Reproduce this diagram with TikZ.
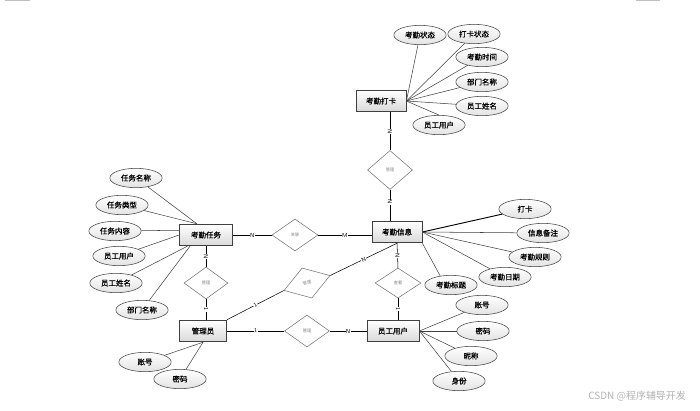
\documentclass[tikz,border=0pt]{standalone}
\usepackage{fontspec}
\usepackage{tikz}
\usetikzlibrary{shapes.geometric}
\newfontfamily\cjk[FakeBold=0.7]{Noto Sans CJK SC}
\newfontfamily\cjklight{Noto Sans CJK SC}
\tikzset{entity/.style = {draw=black!75, line width=0.7, top color=white, bottom color=gray!30,
                          minimum width=1.5cm, minimum height=0.65cm, inner sep=0,
                          font=\cjk\fontsize{6.4}{7}\selectfont}}
\tikzset{attr/.style = {ellipse, draw=black!75, top color=white, bottom color=gray!22,
                        minimum width=1.57cm, minimum height=0.58cm, inner sep=0,
                        font=\cjk\fontsize{6.4}{7}\selectfont}}
\tikzset{rel/.style = {diamond, draw=black!55, fill=white, minimum width=1.35cm, minimum height=0.96cm,
                       inner sep=0, text=gray, font=\cjklight\fontsize{3.6}{4}\selectfont}}
\tikzset{mult/.style = {fill=white, inner sep=0.4pt, sloped, font=\sffamily\fontsize{5}{5}\selectfont}}

\begin{document}
\begin{tikzpicture}[x=0.03cm, y=-0.03cm, line width=0.45]
      \useasboundingbox (0, 0) rectangle (700, 410);

      % entities
      \node [entity] (dk) at (381, 101) {考勤打卡};
      \node [entity, minimum width=1.59cm] (rw) at (206, 235) {考勤任务};
      \node [entity] (ki) at (397, 232) {考勤信息};
      \node [entity, minimum width=1.41cm] (gly) at (203, 331) {管理员};
      \node [entity, minimum width=1.56cm] (yg) at (393, 331) {员工用户};

      % relations
      \node [rel, minimum height=1.17cm] (tm) at (390, 170) {管理};
      \node [rel, minimum width=1.38cm] (gl) at (295, 235) {关联};
      \node [rel, minimum width=1.32cm] (lm) at (206, 283) {管理};
      \node [rel, rotate=18, minimum width=1.45cm, minimum height=0.95cm] (td) at (307, 283) {管理};
      \node [rel, minimum width=1.38cm, minimum height=0.9cm] (rd) at (398, 283) {查看};
      \node [rel] (bm) at (307, 331) {管理};

      % attributes
      \node [attr] (dk1) at (420, 35) {考勤状态};
      \node [attr] (dk2) at (474, 34) {打卡状态};
      \node [attr] (dk3) at (482, 57) {考勤时间};
      \node [attr] (dk4) at (482, 82) {部门名称};
      \node [attr] (dk5) at (482, 106) {员工姓名};
      \node [attr] (dk6) at (439, 125) {员工用户};

      \node [attr] (rw1) at (136, 178) {任务名称};
      \node [attr] (rw2) at (122, 205) {任务类型};
      \node [attr] (rw3) at (115, 231) {任务内容};
      \node [attr] (rw4) at (119, 256) {员工用户};
      \node [attr] (rw5) at (116, 283) {员工姓名};
      \node [attr] (rw6) at (142, 310) {部门名称};

      \node [attr] (ki1) at (525, 209) {打卡};
      \node [attr] (ki2) at (543, 233) {信息备注};
      \node [attr] (ki3) at (535, 257) {考勤规则};
      \node [attr] (ki4) at (505, 277) {考勤日期};
      \node [attr] (ki5) at (451, 285) {考勤标题};

      \node [attr] (gly1) at (145, 362) {账号};
      \node [attr] (gly2) at (180, 379) {密码};

      \node [attr] (yg1) at (482, 305) {账号};
      \node [attr] (yg2) at (483, 331) {密码};
      \node [attr] (yg3) at (471, 356) {昵称};
      \node [attr] (yg4) at (459, 381) {身份};

      % attribute lines
      \draw [black!75] (dk.east) -- (dk1);
      \draw [black!75] (dk.east) -- (dk2);
      \draw [black!75] (dk.east) -- (dk3);
      \draw [black!75] (dk.east) -- (dk4);
      \draw [black!75] (dk.east) -- (dk5);
      \draw [black!75] (dk.east) -- (dk6.north);

      \draw [black!75] (rw.129) -- (rw1);
      \draw [black!75] (rw.129) -- (rw2);
      \draw [black!75] (rw.170) -- (rw3);
      \draw [black!75] (rw.west) -- (rw4);
      \draw [black!75] (rw.211) -- (rw5);
      \draw [black!75] (rw.215) -- (rw6);

      \draw [line width=0.8] (ki.east) -- (ki1);
      \draw [black!75] (ki.east) -- (ki2);
      \draw [black!75] (ki.east) -- (ki3);
      \draw [black!75] (ki.east) -- (ki4);
      \draw [black!75] (ki.south east) -- (ki5.140);

      \draw [black!75] (gly.south) -- (gly1);
      \draw [black!75] (gly.south) -- (gly2);

      \draw [black!75] (yg.east) -- (yg1);
      \draw [black!75] (yg.east) -- (yg2);
      \draw [black!75] (yg.east) -- (yg3);
      \draw [black!75] (yg.east) -- (yg4);

      % relation lines
      \draw (dk.south -| tm.north) -- (tm.north) node [mult, pos=0.5] {N};
      \draw (tm.south) -- (tm.south |- ki.north) node [mult, pos=0.4] {N};
      \draw (rw.east) -- (gl.west) node [mult, pos=0.5] {N};
      \draw (gl.east) -- (gl.east -| ki.west) node [mult, pos=0.5] {M};
      \draw (rw.south) -- (lm.north) node [mult, pos=0.5] {N};
      \draw (lm.south) -- (lm.south |- gly.north) node [mult, pos=0.5] {1};
      \draw (gly.north east) -- (td.west) node [mult, pos=0.5] {1};
      \draw (td.east) -- (ki.south) node [mult, pos=0.5] {N};
      \draw (ki.south) -- (rd.north) node [mult, pos=0.5] {N};
      \draw (rd.south) -- (rd.south |- yg.north) node [mult, pos=0.5] {1};
      \draw (gly.east) -- (bm.west) node [mult, pos=0.5] {1};
      \draw (bm.east) -- (yg.west) node [mult, pos=0.5] {N};

      % marks and watermark
      \draw [gray!50] (5, 0.5) -- (30, 0.5);
      \draw [gray!50] (636, 0.5) -- (660, 0.5);
      \node [anchor=east, text=gray!60, font=\cjklight\fontsize{8.5}{9}\selectfont] (wm) at (690, 396) {CSDN @程序辅导开发};
    \end{tikzpicture}
\end{document}
